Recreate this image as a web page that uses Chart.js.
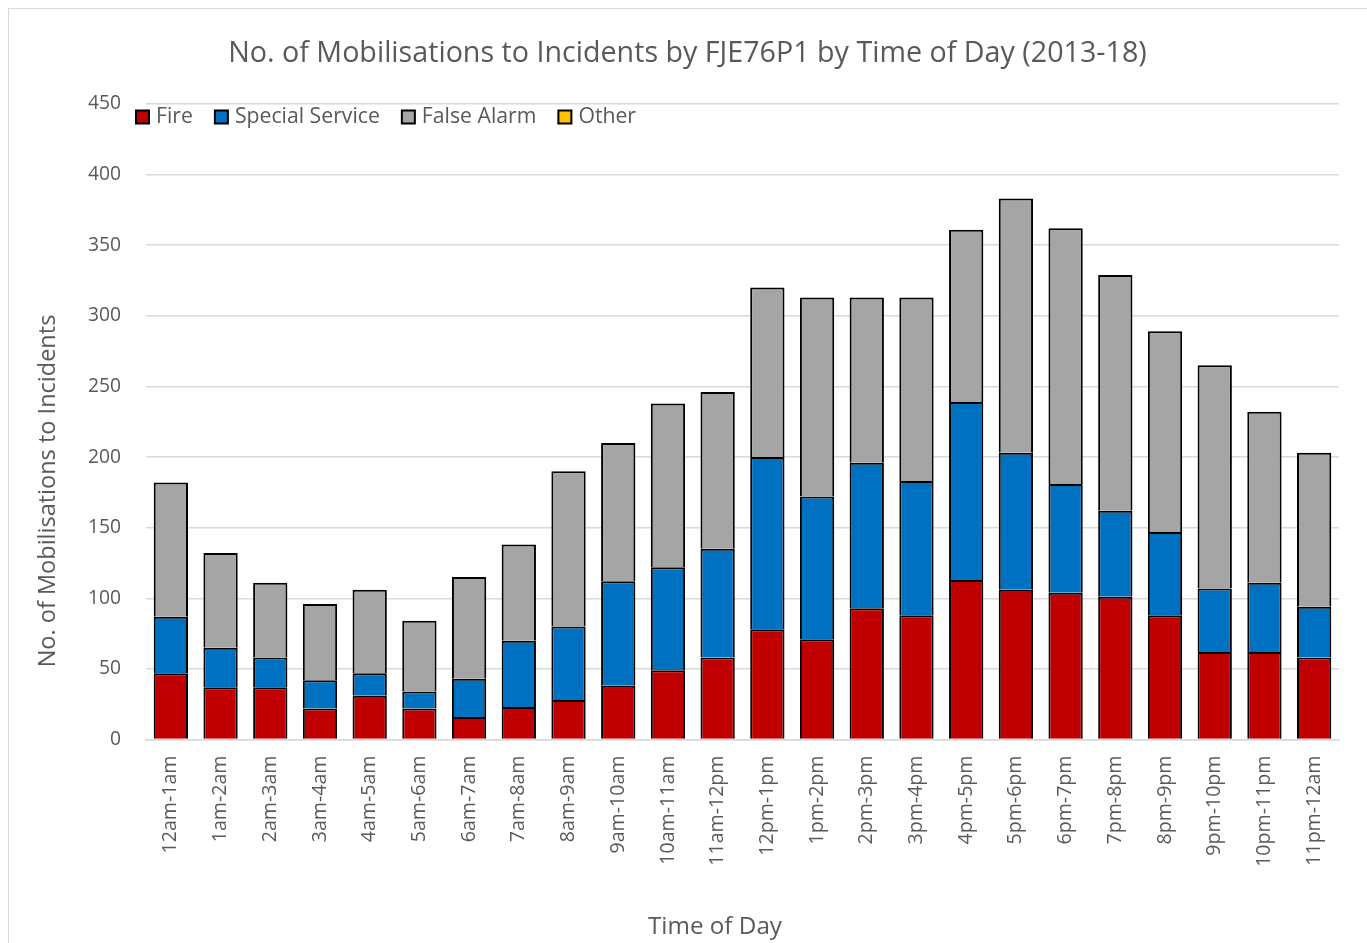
<!DOCTYPE html>
<html><head><meta charset="utf-8">
<script src="https://cdn.jsdelivr.net/npm/chart.js@4.4.1/dist/chart.umd.min.js"></script>
<style>
html,body{margin:0;padding:0;background:#fff;overflow:hidden;width:1367px;height:943px;}
#frame{position:absolute;left:8px;top:8px;width:1400px;height:1000px;border:1px solid #d9d9d9;}
#wrap{position:absolute;left:0;top:0;width:1367px;height:943px;}
</style></head><body>
<div id="frame"></div>
<div id="wrap"><canvas id="c" width="1367" height="943"></canvas></div>
<script>
const categories = ["12am-1am","1am-2am","2am-3am","3am-4am","4am-5am","5am-6am","6am-7am","7am-8am","8am-9am","9am-10am","10am-11am","11am-12pm","12pm-1pm","1pm-2pm","2pm-3pm","3pm-4pm","4pm-5pm","5pm-6pm","6pm-7pm","7pm-8pm","8pm-9pm","9pm-10pm","10pm-11pm","11pm-12am"];
const fire = [47,37,37,22,31,22,16,23,28,38,49,58,78,71,93,88,113,106,104,101,88,62,62,58];
const specialService = [40,28,21,20,16,12,27,47,52,74,73,77,122,101,103,95,126,97,77,61,59,45,49,36];
const falseAlarm = [95,67,53,54,59,50,72,68,110,98,116,111,120,141,117,130,122,180,181,167,142,158,121,109];
const other = [0,0,0,0,0,0,0,0,0,0,0,0,0,0,0,0,0,0,0,0,0,0,0,0];
const yMin = 0, yMax = 450, yStep = 50;
const titleText = "No. of Mobilisations to Incidents by FJE76P1 by Time of Day (2013-18)";
const yTitleText = "No. of Mobilisations to Incidents";
const xTitleText = "Time of Day";

const FONT = '"Open Sans", "Noto Sans", sans-serif';
const TXT = '#595959';
const mctx = document.createElement('canvas').getContext('2d');
function fit(text, w) { mctx.font = '400 100px ' + FONT; return 100 * w / mctx.measureText(text).width; }
const titleSize = fit(titleText, 919);
const legendSize = fit("Special Service", 145);
const yTickSize = fit("100", 33);
const xTickSize = fit("12am-1am", 98);
const yTitleSize = fit(yTitleText, 353);
const xTitleSize = fit(xTitleText, 134);

const textPlugin = {
  id: 'texts',
  afterDraw(chart) {
    const ctx = chart.ctx;
    ctx.save();
    ctx.fillStyle = TXT;
    ctx.textBaseline = 'middle';
    ctx.textAlign = 'center';
    ctx.font = '400 ' + titleSize + 'px ' + FONT;
    ctx.fillText(titleText, 687.5, 54);
    ctx.font = '400 ' + xTitleSize + 'px ' + FONT;
    ctx.fillText(xTitleText, 715, 927);
    ctx.save();
    ctx.translate(48, 491);
    ctx.rotate(-Math.PI / 2);
    ctx.font = '400 ' + yTitleSize + 'px ' + FONT;
    ctx.fillText(yTitleText, 0, 0);
    ctx.restore();
    // legend
    ctx.font = '400 ' + legendSize + 'px ' + FONT;
    ctx.textAlign = 'left';
    let x = 135;
    const cy = 117, bs = 15;
    chart.data.datasets.forEach(ds => {
      ctx.fillStyle = '#000';
      ctx.fillRect(x, cy - bs / 2, bs, bs);
      ctx.fillStyle = ds.backgroundColor;
      ctx.fillRect(x + 2, cy - bs / 2 + 2, bs - 4, bs - 4);
      ctx.fillStyle = TXT;
      ctx.fillText(ds.label, x + bs + 6, cy);
      x += bs + 6 + ctx.measureText(ds.label).width + 21;
    });
    ctx.restore();
  }
};

const mk = (label, data, color) => ({label, data, backgroundColor: color, borderColor: '#000', borderWidth: 2, borderSkipped: 'start', barPercentage: 0.69, categoryPercentage: 1});

new Chart(document.getElementById('c'), {
  type: 'bar',
  data: {
    labels: categories,
    datasets: [
      mk('Fire', fire, '#C00000'),
      mk('Special Service', specialService, '#0070C0'),
      mk('False Alarm', falseAlarm, '#A5A5A5'),
      mk('Other', other, '#FFC000')
    ]
  },
  options: {
    responsive: false,
    animation: false,
    layout: {padding: {left: 0, right: 28, top: 104, bottom: 0}},
    plugins: {legend: {display: false}, title: {display: false}, tooltip: {enabled: false}},
    scales: {
      x: {
        stacked: true,
        grid: {display: false, drawTicks: false},
        border: {display: true, color: '#d9d9d9', width: 1.5},
        ticks: {autoSkip: false, maxRotation: 90, minRotation: 90, padding: 16, color: TXT, font: {family: FONT, size: xTickSize}},
        afterFit(s) { s.height = 203.5; }
      },
      y: {
        stacked: true,
        min: yMin, max: yMax,
        grid: {color: '#d9d9d9', lineWidth: 1.5, drawTicks: false},
        border: {display: false},
        ticks: {stepSize: yStep, padding: 25, color: TXT, font: {family: FONT, size: yTickSize}},
        afterFit(s) { s.width = 146; }
      }
    }
  },
  plugins: [textPlugin]
});
</script>
</body></html>
